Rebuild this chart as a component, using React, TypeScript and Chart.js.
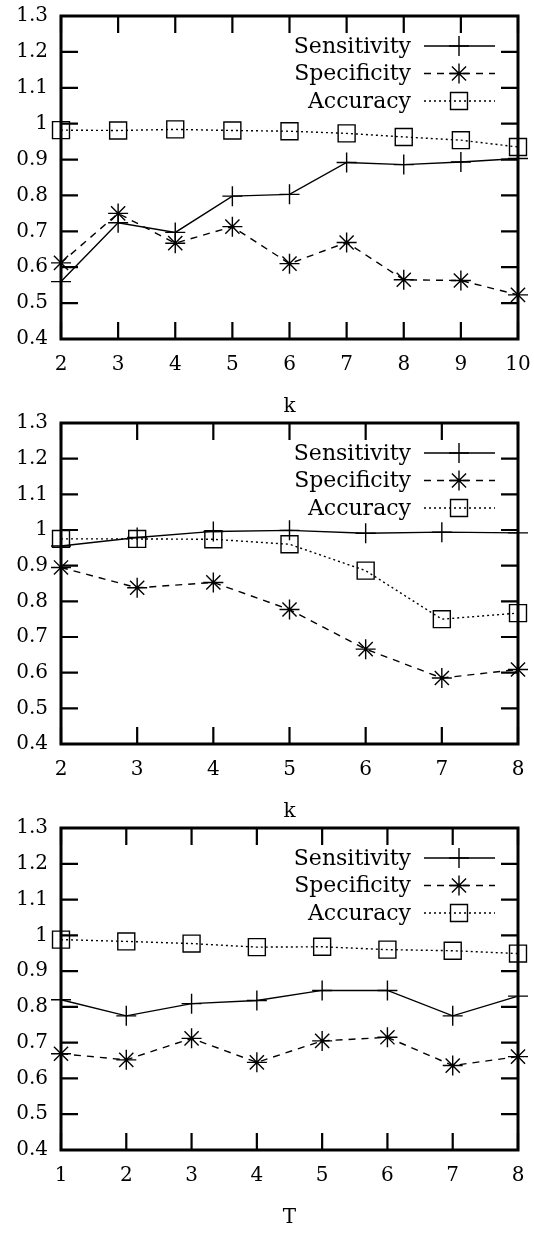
import React, { useEffect, useRef } from "react";
import { Chart, registerables } from "chart.js";

Chart.register(...registerables);

const FONT_FAMILY = '"DejaVu Serif", "Liberation Serif", serif';

// ---- data ----
const seriesNames = ["Sensitivity", "Specificity", "Accuracy"];
const yTickValues = [0.4, 0.5, 0.6, 0.7, 0.8, 0.9, 1.0, 1.1, 1.2, 1.3];

const kLabels1 = ["2", "3", "4", "5", "6", "7", "8", "9", "10"];
const sens1 = [0.56, 0.724, 0.697, 0.798, 0.803, 0.892, 0.886, 0.893, 0.903];
const spec1 = [0.612, 0.75, 0.667, 0.713, 0.61, 0.669, 0.565, 0.563, 0.523];
const acc1 = [0.982, 0.981, 0.984, 0.981, 0.979, 0.973, 0.963, 0.954, 0.935];

const kLabels2 = ["2", "3", "4", "5", "6", "7", "8"];
const sens2 = [0.955, 0.979, 0.996, 0.999, 0.991, 0.994, 0.992];
const spec2 = [0.895, 0.838, 0.853, 0.777, 0.666, 0.585, 0.609];
const acc2 = [0.975, 0.975, 0.974, 0.96, 0.886, 0.75, 0.767];

const tLabels3 = ["1", "2", "3", "4", "5", "6", "7", "8"];
const sens3 = [0.82, 0.775, 0.809, 0.818, 0.846, 0.846, 0.775, 0.83];
const spec3 = [0.669, 0.652, 0.712, 0.645, 0.705, 0.715, 0.636, 0.661];
const acc3 = [0.988, 0.983, 0.977, 0.967, 0.968, 0.96, 0.957, 0.949];

// ---- helpers ----
function drawMarker(ctx: CanvasRenderingContext2D, style: string, x: number, y: number, r: number) {
  ctx.beginPath();
  if (style === "cross") {
    ctx.moveTo(x - r, y);
    ctx.lineTo(x + r, y);
    ctx.moveTo(x, y - r);
    ctx.lineTo(x, y + r);
  } else if (style === "star") {
    ctx.moveTo(x - r, y);
    ctx.lineTo(x + r, y);
    ctx.moveTo(x, y - r);
    ctx.lineTo(x, y + r);
    const d = r * Math.SQRT1_2;
    ctx.moveTo(x - d, y - d);
    ctx.lineTo(x + d, y + d);
    ctx.moveTo(x - d, y + d);
    ctx.lineTo(x + d, y - d);
  } else if (style === "rect") {
    const s = r * Math.SQRT1_2;
    ctx.rect(x - s, y - s, 2 * s, 2 * s);
  }
  ctx.stroke();
}

const framePlugin = {
  id: "gpFrame",
  beforeDatasetsDraw(chart: any) {
    const { ctx, chartArea } = chart;
    const { left, right, top, bottom } = chartArea;
    const xs = chart.scales.x;
    const ys = chart.scales.y;
    const TL = 17;
    ctx.save();
    ctx.strokeStyle = "#000";
    ctx.lineWidth = 2.2;
    ctx.setLineDash([]);
    ctx.beginPath();
    xs.ticks.forEach((_t: any, i: number) => {
      const px = xs.getPixelForTick(i);
      ctx.moveTo(px, bottom);
      ctx.lineTo(px, bottom - TL);
      ctx.moveTo(px, top);
      ctx.lineTo(px, top + TL);
    });
    ys.ticks.forEach((_t: any, i: number) => {
      const py = ys.getPixelForTick(i);
      ctx.moveTo(left, py);
      ctx.lineTo(left + TL, py);
      ctx.moveTo(right, py);
      ctx.lineTo(right - TL, py);
    });
    ctx.stroke();
    ctx.lineWidth = 3;
    ctx.strokeRect(left, top, right - left, bottom - top);
    ctx.restore();
  },
};

const legendPlugin = {
  id: "gpLegend",
  afterDatasetsDraw(chart: any) {
    const { ctx, chartArea } = chart;
    const right = chartArea.right;
    const top = chartArea.top;
    chart.data.datasets.forEach((ds: any, i: number) => {
      const y = top + 30 + i * 27.5;
      ctx.save();
      ctx.font = `22px ${FONT_FAMILY}`;
      ctx.fillStyle = "#000";
      ctx.textAlign = "right";
      ctx.textBaseline = "middle";
      ctx.fillText(ds.label, right - 107, y + 1);
      ctx.strokeStyle = "#000";
      ctx.lineWidth = ds.borderWidth;
      ctx.setLineDash(ds.borderDash || []);
      ctx.beginPath();
      ctx.moveTo(right - 94, y);
      ctx.lineTo(right - 23, y);
      ctx.stroke();
      ctx.setLineDash([]);
      ctx.lineWidth = ds.pointBorderWidth;
      drawMarker(ctx, ds.pointStyle, right - 59, y, ds.pointRadius);
      ctx.restore();
    });
  },
};

function makeConfig(
  labels: string[],
  sens: number[],
  spec: number[],
  acc: number[],
  xTitle: string,
  plotH: number,
  canvasH: number
): any {
  const font = { family: FONT_FAMILY, size: 20 };
  const common = {
    borderColor: "#000",
    pointBorderColor: "#000",
    pointBackgroundColor: "rgba(0,0,0,0)",
    borderWidth: 1.4,
    pointBorderWidth: 1.4,
    tension: 0,
    fill: false,
    clip: false,
  };
  return {
    type: "line",
    data: {
      labels,
      datasets: [
        { ...common, label: seriesNames[0], data: sens, pointStyle: "cross", pointRadius: 10, borderDash: [] },
        { ...common, label: seriesNames[1], data: spec, pointStyle: "star", pointRadius: 10, borderDash: [7, 6] },
        { ...common, label: seriesNames[2], data: acc, pointStyle: "rect", pointRadius: 12, borderDash: [2, 3] },
      ],
    },
    options: {
      responsive: false,
      animation: false,
      devicePixelRatio: 1,
      layout: { padding: { top: 16, right: 16, left: 0, bottom: 0 } },
      plugins: { legend: { display: false }, tooltip: { enabled: false }, title: { display: false } },
      events: [],
      scales: {
        x: {
          type: "category",
          offset: false,
          grid: { display: false, drawTicks: false },
          border: { display: false },
          ticks: { font, color: "#000", padding: 14, maxRotation: 0, autoSkip: false },
          title: { display: true, text: xTitle, font, color: "#000", padding: 0 },
          afterFit: (scale: any) => {
            scale.height = canvasH - 16 - plotH;
            scale.paddingLeft = 0;
            scale.paddingRight = 0;
          },
        },
        y: {
          type: "linear",
          min: 0.4,
          max: 1.3,
          grid: { display: false, drawTicks: false },
          border: { display: false },
          afterBuildTicks: (scale: any) => {
            scale.ticks = yTickValues.map((v) => ({ value: v }));
          },
          ticks: {
            font,
            color: "#000",
            padding: 13,
            callback: (v: any) => String(Math.round(Number(v) * 10) / 10),
          },
          afterFit: (scale: any) => {
            scale.width = 61;
            scale.paddingTop = 0;
            scale.paddingBottom = 0;
          },
        },
      },
    },
    plugins: [framePlugin, legendPlugin],
  };
}

function Plot(props: { top: number; plotH: number; build: (plotH: number, canvasH: number) => any }) {
  const ref = useRef<HTMLCanvasElement | null>(null);
  const canvasH = 16 + props.plotH + 80;
  useEffect(() => {
    if (!ref.current) return;
    const chart = new Chart(ref.current, props.build(props.plotH, canvasH));
    return () => chart.destroy();
  }, []);
  return (
    <canvas
      ref={ref}
      width={534}
      height={canvasH}
      style={{ position: "absolute", left: 0, top: props.top, width: 534, height: canvasH, display: "block" }}
    />
  );
}

export default function App() {
  return (
    <div style={{ position: "absolute", left: 0, top: 0, width: 534, height: 1233 }}>
      <Plot top={0} plotH={323} build={(p, c) => makeConfig(kLabels1, sens1, spec1, acc1, "k", p, c)} />
      <Plot top={407} plotH={321} build={(p, c) => makeConfig(kLabels2, sens2, spec2, acc2, "k", p, c)} />
      <Plot top={812} plotH={322} build={(p, c) => makeConfig(tLabels3, sens3, spec3, acc3, "T", p, c)} />
    </div>
  );
}
